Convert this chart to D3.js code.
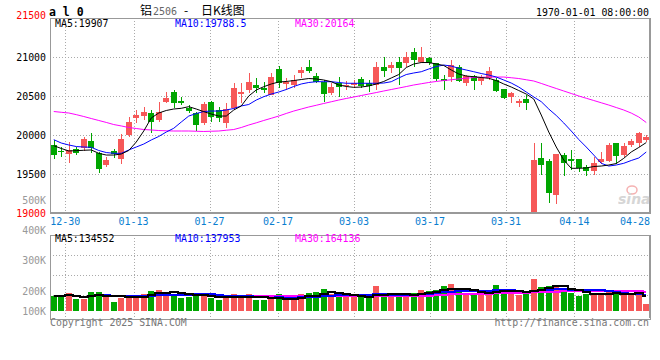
<!DOCTYPE html>
<html>
<head>
<meta charset="utf-8">
<title>铝2506 日K线图</title>
<script src="https://d3js.org/d3.v7.min.js"></script>
<style>
  body { margin: 0; background: #fff; }
  svg { display: block; }
  .mono { font-family: "DejaVu Sans Mono", "Liberation Mono", monospace; }
  .grid { stroke: #aaa; stroke-width: 1; stroke-dasharray: 1,2; shape-rendering: crispEdges; }
</style>
</head>
<body>
<div id="chart"></div>
<script>
// trading days shown (one candle each)
var dates = ["12-26","12-27","12-30","12-31","01-02","01-03","01-06","01-07","01-08","01-09",
  "01-10","01-13","01-14","01-15","01-16","01-17","01-20","01-21","01-22","01-23",
  "01-24","01-27","02-05","02-06","02-07","02-10","02-11","02-12","02-13","02-14",
  "02-17","02-18","02-19","02-20","02-21","02-24","02-25","02-26","02-27","02-28",
  "03-03","03-04","03-05","03-06","03-07","03-10","03-11","03-12","03-13","03-14",
  "03-17","03-18","03-19","03-20","03-21","03-24","03-25","03-26","03-27","03-28",
  "03-31","04-01","04-02","04-03","04-07","04-08","04-09","04-10","04-11","04-14",
  "04-15","04-16","04-17","04-18","04-21","04-22","04-23","04-24","04-25","04-28"];

var openP = [19876,19805,19760,19820,19841,19927,19769,19619,19795,19700,
  20004,20226,20251,20290,20196,20431,20559,20444,20346,20290,
  20154,20427,20324,20154,20346,20526,20581,20645,20603,20517,
  20850,20658,20645,20795,20872,20760,20687,20546,20667,20630,
  20645,20722,20667,20645,20879,20859,20944,20931,21072,20944,
  20987,20923,20722,20751,20879,20667,20760,20700,20731,20709,
  20590,20487,20418,20461,18900,19705,19670,19235,19747,19696,
  19696,19597,19546,19654,19674,19901,19747,19876,19897,19940];
var highP = [19940,19854,19910,19846,19982,20026,19790,19726,19828,20013,
  20231,20324,20367,20324,20431,20551,20581,20495,20388,20302,
  20427,20440,20367,20410,20674,20667,20795,20731,20687,20795,
  20888,20731,20773,20879,20965,20795,20709,20667,20751,20690,
  20709,20751,20709,20944,21008,20944,21008,21072,21115,21136,
  21008,20930,20773,20965,20901,20772,20772,20772,20879,20731,
  20600,20560,20470,20517,19897,19905,19692,19760,19769,19812,
  19700,19619,19718,19790,19897,19905,19897,19949,20046,20004];
var lowP = [19696,19718,19641,19747,19803,19777,19520,19597,19713,19632,
  19982,20154,20196,20026,20174,20410,20346,20388,20290,20059,
  20132,20174,20174,20090,20324,20410,20538,20538,20538,20517,
  20603,20581,20603,20731,20795,20667,20431,20517,20495,20580,
  20603,20603,20559,20581,20751,20795,20645,20879,20879,20923,
  20901,20700,20581,20687,20687,20632,20581,20645,20709,20560,
  20461,20410,20367,20324,18850,19491,19136,19119,19478,19555,
  19526,19482,19491,19632,19662,19632,19726,19854,19846,19918];
var closeP = [19747,19790,19811,19777,19953,19833,19564,19683,19760,19953,
  20174,20260,20302,20174,20302,20482,20410,20410,20311,20128,
  20401,20238,20218,20333,20603,20559,20687,20603,20581,20751,
  20667,20687,20709,20837,20828,20687,20526,20615,20623,20650,
  20667,20632,20636,20879,20828,20901,20859,21008,20965,21008,
  20923,20718,20700,20901,20700,20760,20700,20731,20824,20572,
  20482,20538,20444,20418,19683,19619,19256,19760,19641,19674,
  19577,19546,19641,19696,19876,19738,19863,19931,20033,19982];

// price moving averages as drawn (they need history before the window)
var ma5 = [19867,19831,19799,19803,19808,19812,19769,19747,19747,19760,
  19805,19914,20055,20222,20286,20318,20337,20346,20367,20337,
  20303,20273,20247,20247,20324,20376,20504,20581,20623,20658,
  20683,20690,20702,20715,20728,20722,20709,20687,20645,20626,
  20615,20619,20632,20658,20690,20735,20779,20869,20914,20933,
  20933,20914,20895,20837,20786,20760,20751,20741,20731,20702,
  20658,20619,20574,20529,20465,20260,20042,19850,19683,19577,
  19577,19581,19600,19606,19619,19638,19705,19786,19844,19907];
var ma10 = [19944,19901,19876,19856,19850,19846,19805,19779,19769,19769,
  19812,19850,19888,19940,19985,20042,20090,20170,20247,20279,
  20305,20311,20311,20324,20344,20376,20395,20452,20495,20529,
  20555,20587,20626,20658,20677,20687,20687,20687,20677,20667,
  20667,20667,20667,20667,20670,20687,20735,20779,20799,20815,
  20850,20882,20901,20888,20859,20837,20815,20792,20773,20747,
  20709,20670,20619,20555,20491,20431,20337,20254,20158,20055,
  19946,19850,19747,19641,19606,19619,19641,19677,19709,19786];
var ma30 = [20305,20295,20286,20265,20241,20215,20190,20165,20138,20120,
  20100,20087,20074,20068,20061,20058,20055,20055,20055,20052,
  20049,20052,20055,20065,20074,20100,20132,20160,20190,20218,
  20247,20280,20311,20337,20363,20385,20408,20430,20452,20472,
  20491,20510,20529,20548,20568,20587,20606,20625,20645,20661,
  20677,20690,20702,20712,20722,20732,20741,20744,20747,20747,
  20747,20738,20728,20712,20696,20665,20632,20600,20568,20536,
  20504,20475,20446,20417,20388,20356,20324,20285,20235,20164];

var volume = [183000,183000,194000,173000,173000,197000,197000,183000,164000,177000,
  183000,186000,189000,200000,202000,197000,191000,177000,180000,194000,
  184000,178000,169000,178000,189000,183000,189000,169000,169000,175000,
  189000,169000,169000,189000,194000,197000,205000,191000,180000,180000,
  180000,180000,180000,216000,186000,186000,180000,189000,194000,202000,
  199000,202000,216000,222000,199000,191000,188000,191000,202000,219000,
  199000,191000,186000,191000,239000,212000,216000,219000,197000,194000,
  183000,189000,191000,186000,202000,191000,186000,186000,199000,156000];

var tickDates = ["12-30","01-13","01-27","02-17","03-03","03-17","03-31","04-14","04-28"];
var priceTicks = [21500, 21000, 20500, 20000, 19500, 19000];
var volTicks = [500000, 400000, 300000, 200000, 100000];

var width = 660, height = 360;
var left = 50, right = 650;
var priceTop = 18.3, priceBottom = 213.3;
var volTop = 234.7, volBottom = 318.3, volBase = 311;
var upColor = "#f65858", downColor = "#00a600";
var mono = "DejaVu Sans Mono, Liberation Mono, monospace";

var svg = d3.select("#chart").append("svg")
  .attr("width", width)
  .attr("height", height);

var idx = d3.range(dates.length);

// candles sit on a band scale, date grid on its own (slightly wider) spacing
var x = d3.scaleBand().domain(idx).range([left, right]).paddingInner(0.2).paddingOuter(0.1);
var xTick = d3.scaleLinear().domain([0, dates.length - 1]).range([left, left + 7.6 * (dates.length - 1)]);
var y = d3.scaleLinear().domain([19000, 21500]).range([priceBottom, priceTop]);
var yVol = d3.scaleLinear().domain([200000, 500000]).range([291, 200]);

function cx(i) { return Math.round(x(i) + x.bandwidth() / 2) + 0.5; }

svg.append("defs").append("clipPath").attr("id", "priceClip")
  .append("rect").attr("x", left).attr("y", priceTop).attr("width", right - left).attr("height", priceBottom - priceTop);
svg.append("defs").append("clipPath").attr("id", "volClip")
  .append("rect").attr("x", left).attr("y", volTop).attr("width", right - left).attr("height", volBottom - volTop);

// ---- grids
var tickIdx = tickDates.map(function(d) { return dates.indexOf(d); });
var gridG = svg.append("g");
tickIdx.forEach(function(i) {
  var gx = Math.round(xTick(i)) + 0.5;
  if (gx >= right - 1) return;
  gridG.append("line").attr("class", "grid").attr("x1", gx).attr("x2", gx).attr("y1", priceTop).attr("y2", priceBottom);
  gridG.append("line").attr("class", "grid").attr("x1", gx).attr("x2", gx).attr("y1", volTop).attr("y2", volBottom);
});
priceTicks.slice(1, -1).forEach(function(p) {
  var gy = Math.round(y(p)) + 0.5;
  gridG.append("line").attr("class", "grid").attr("x1", left).attr("x2", right).attr("y1", gy).attr("y2", gy);
});
d3.range(1, 4).forEach(function(k) {
  var gy = Math.round(volTop + k * 20.2) + 0.5;
  gridG.append("line").attr("class", "grid").attr("x1", left).attr("x2", right).attr("y1", gy).attr("y2", gy);
});

// ---- candles
var candles = svg.append("g").attr("clip-path", "url(#priceClip)").attr("shape-rendering", "crispEdges");
candles.selectAll("line.wick").data(idx).enter().append("line")
  .attr("x1", cx).attr("x2", cx)
  .attr("y1", function(i) { return y(highP[i]); })
  .attr("y2", function(i) { return y(lowP[i]); })
  .attr("stroke", function(i) { return closeP[i] >= openP[i] ? upColor : downColor; });
candles.selectAll("rect.body").data(idx).enter().append("rect")
  .attr("x", function(i) { return Math.round(x(i)); })
  .attr("width", 6)
  .attr("y", function(i) { return y(Math.max(openP[i], closeP[i])); })
  .attr("height", function(i) { return Math.max(1, Math.abs(y(openP[i]) - y(closeP[i]))); })
  .attr("fill", function(i) { return closeP[i] >= openP[i] ? upColor : downColor; });

// ---- price MA lines
var maG = svg.append("g").attr("clip-path", "url(#priceClip)");
[[ma30, "#ff00ff"], [ma10, "#0000ff"], [ma5, "#000"]].forEach(function(s) {
  maG.append("path")
    .datum(s[0])
    .attr("fill", "none")
    .attr("stroke", s[1])
    .attr("stroke-width", 1)
    .attr("d", d3.line().x(function(d, i) { return x(i) + x.bandwidth() / 2; }).y(function(d) { return y(d); }));
});

// ---- volume bars
var volG = svg.append("g").attr("clip-path", "url(#volClip)").attr("shape-rendering", "crispEdges");
volG.selectAll("rect").data(idx).enter().append("rect")
  .attr("x", function(i) { return Math.round(x(i)); })
  .attr("width", 6)
  .attr("y", function(i) { return Math.round(yVol(volume[i])); })
  .attr("height", function(i) { return volBase - Math.round(yVol(volume[i])); })
  .attr("fill", function(i) { return closeP[i] >= openP[i] ? upColor : downColor; });

// volume moving averages, drawn as steps
function movingAvg(values, n) {
  return values.map(function(v, i) { return d3.mean(values.slice(Math.max(0, i - n + 1), i + 1)); });
}
[[movingAvg(volume, 30), "#ff00ff"], [movingAvg(volume, 10), "#0000ff"], [movingAvg(volume, 5), "#000"]].forEach(function(s) {
  volG.append("path")
    .datum(s[0])
    .attr("fill", "none")
    .attr("stroke", s[1])
    .attr("stroke-width", 2)
    .attr("d", d3.line().curve(d3.curveStep)
      .x(function(d, i) { return x(i) + x.bandwidth() / 2; })
      .y(function(d) { return Math.round(yVol(d)); }));
});

// ---- frames
var frame = svg.append("g").attr("fill", "none").attr("stroke", "#999").attr("shape-rendering", "crispEdges");
frame.append("rect").attr("x", left + 0.5).attr("y", Math.round(priceTop) + 0.5).attr("width", right - left).attr("height", priceBottom - priceTop);
frame.append("rect").attr("x", left + 0.5).attr("y", Math.round(volTop) + 0.5).attr("width", right - left).attr("height", volBottom - volTop);
frame.append("line").attr("x1", left).attr("x2", right + 1).attr("y1", Math.round(priceBottom)).attr("y2", Math.round(priceBottom)).attr("stroke-width", 2);
frame.append("line").attr("x1", right).attr("x2", right).attr("y1", priceTop).attr("y2", priceBottom).attr("stroke-width", 2);
frame.append("line").attr("x1", right).attr("x2", right).attr("y1", volTop).attr("y2", volBottom).attr("stroke-width", 2);

// ---- axis labels
var txt = svg.append("g").attr("font-family", mono).attr("font-size", "9.9px");
priceTicks.forEach(function(p, k) {
  var edge = (k === 0 || k === priceTicks.length - 1);
  txt.append("text")
    .attr("x", 46).attr("y", y(p) + (k === 0 ? 1 : 3.5))
    .attr("text-anchor", "end")
    .attr("fill", edge ? "#f00" : "#000")
    .text(p);
});
volTicks.forEach(function(v) {
  txt.append("text")
    .attr("x", 46).attr("y", Math.min(yVol(v), volBase) + 3.5)
    .attr("text-anchor", "end")
    .attr("fill", "#999")
    .text(v / 1000 + "K");
});
tickIdx.forEach(function(i, k) {
  var tx = Math.min(xTick(i), right - 15);
  txt.append("text")
    .attr("x", tx).attr("y", 225)
    .attr("text-anchor", "middle")
    .attr("font-size", "10px")
    .attr("fill", "#0a7ed0")
    .text(tickDates[k]);
});

// ---- MA legends
var priceLegend = [["MA5:19907", "#000", 55], ["MA10:19788.5", "#0000ff", 175], ["MA30:20164", "#ff00ff", 295]];
priceLegend.forEach(function(l) {
  txt.append("text").attr("x", l[2]).attr("y", 26.5).attr("fill", l[1]).text(l[0]);
});
var volLegend = [["MA5:134552", "#000", 55], ["MA10:137953", "#0000ff", 175], ["MA30:164136", "#ff00ff", 295]];
volLegend.forEach(function(l) {
  txt.append("text").attr("x", l[2]).attr("y", 242).attr("fill", l[1]).text(l[0]);
});

// ---- header
svg.append("text").attr("x", 49).attr("y", 16)
  .attr("font-family", mono).attr("font-weight", "bold").attr("font-size", "11.5px")
  .text("a l 0");
var title = svg.append("text").attr("y", 15).attr("font-size", "12px")
  .attr("font-family", "Noto Sans CJK SC, sans-serif");
title.append("tspan").attr("x", 140).text("铝");
title.append("tspan").attr("x", 153).attr("font-family", mono).attr("font-size", "10px").attr("fill", "#666").text("2506");
title.append("tspan").attr("x", 184).text("-");
title.append("tspan").attr("x", 201).text("日K线图");
svg.append("text").attr("x", 649).attr("y", 16).attr("text-anchor", "end")
  .attr("font-family", mono).attr("font-size", "9.9px").text("1970-01-01 08:00:00");

// ---- footer
svg.append("text").attr("x", 50).attr("y", 326)
  .attr("font-family", mono).attr("font-size", "9.9px").attr("fill", "#777")
  .text("Copyright 2025 SINA.COM");
svg.append("text").attr("x", 649).attr("y", 326).attr("text-anchor", "end")
  .attr("font-family", mono).attr("font-size", "9.9px").attr("fill", "#777")
  .text("http://finance.sina.com.cn");

// ---- sina watermark
var logo = svg.append("g").attr("opacity", 0.6);
logo.append("ellipse").attr("cx", 632).attr("cy", 190).attr("rx", 5).attr("ry", 4)
  .attr("fill", "none").attr("stroke", "#f08080").attr("stroke-width", 1.5);
logo.append("text").attr("x", 618).attr("y", 204)
  .attr("font-family", "DejaVu Sans, sans-serif").attr("font-weight", "bold").attr("font-style", "italic")
  .attr("font-size", "14px").attr("fill", "#bbb").text("sina");
</script>
</body>
</html>
